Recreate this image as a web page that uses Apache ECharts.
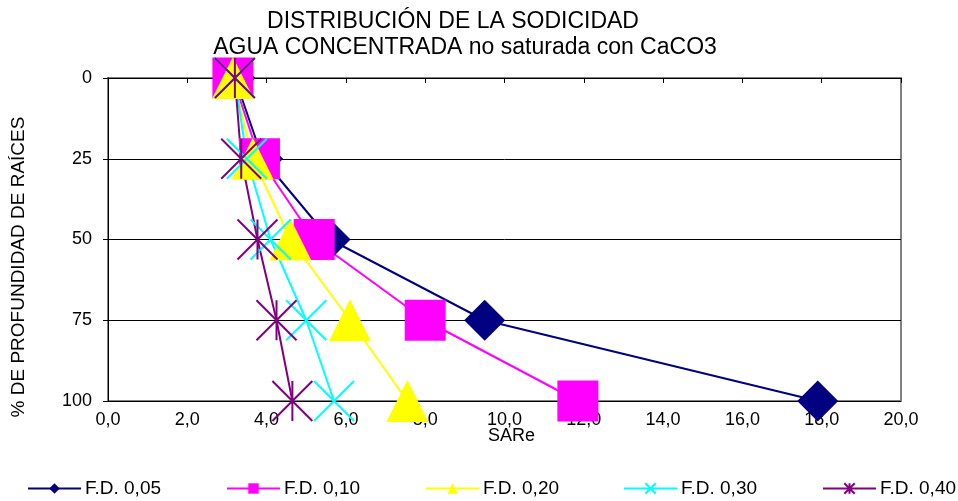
<!DOCTYPE html>
<html>
<head>
<meta charset="utf-8">
<script src="https://cdn.jsdelivr.net/npm/echarts@6/dist/echarts.min.js"></script>
<style>
  html, body { margin: 0; padding: 0; background: #fff; }
  #chart { width: 958px; height: 501px; }
</style>
</head>
<body>
<div id="chart"></div>
<script>
// Root depth (% of profile) and SARe values per leaching fraction
const depths = [0, 25, 50, 75, 100];
const xTicks = [0, 2, 4, 6, 8, 10, 12, 14, 16, 18, 20];
const seriesNames = ['F.D. 0,05', 'F.D. 0,10', 'F.D. 0,20', 'F.D. 0,30', 'F.D. 0,40'];
const sareFD005 = [3.2, 3.9, 5.6, 9.5, 17.9];
const sareFD010 = [3.15, 3.82, 5.2, 8.0, 11.85];
const sareFD020 = [3.15, 3.65, 4.6, 6.1, 7.55];
const sareFD030 = [3.2, 3.5, 4.1, 5.0, 5.7];
const sareFD040 = [3.2, 3.36, 3.77, 4.25, 4.65];

const FONT = '"Liberation Sans", Arial, sans-serif';
const colors = ['#000080', '#FF00FF', '#FFFF00', '#00FFFF', '#800080'];
const symbols = [
  'diamond',
  'rect',
  'triangle',
  'path://M0,0L10,10M10,0L0,10',
  'path://M0,0L10,10M10,0L0,10M5,0L5,10'
];
const values = [sareFD005, sareFD010, sareFD020, sareFD030, sareFD040];
const legendLeft = [27, 226, 425, 623, 822];

const pairs = v => v.map((x, i) => [x, depths[i]]);

const series = values.map((v, k) => {
  const stroked = k >= 3;
  return {
    name: seriesNames[k],
    type: 'line',
    data: pairs(v),
    symbol: symbols[k],
    symbolSize: stroked ? 40 : (k === 2 ? [42, 42] : 41),
    symbolKeepAspect: false,
    lineStyle: { color: colors[k], width: 2 },
    itemStyle: stroked
      ? { color: 'rgba(0,0,0,0)', borderColor: colors[k], borderWidth: 2 }
      : { color: colors[k], borderWidth: 0 },
    emphasis: { disabled: true },
    animation: false
  };
});

const legends = seriesNames.map((n, k) => ({
  data: [n],
  left: legendLeft[k],
  top: 479,
  padding: 0,
  itemWidth: 53,
  itemHeight: 13,
  itemGap: 4,
  selectedMode: false,
  textStyle: { fontFamily: FONT, fontSize: 19, color: '#000', padding: [0, 0, 0, -1] }
}));

const titleStyle = { fontFamily: FONT, fontSize: 23, fontWeight: 'normal', color: '#000' };

const chart = echarts.init(document.getElementById('chart'), null, { renderer: 'canvas' });
chart.setOption({
  backgroundColor: '#fff',
  animation: false,
  title: [
    { text: 'DISTRIBUCIÓN DE LA SODICIDAD', left: 453, top: 10, padding: 0, textAlign: 'center', textStyle: titleStyle },
    { text: 'AGUA CONCENTRADA no saturada con CaCO3', left: 465, top: 36, padding: 0, textAlign: 'center', textStyle: titleStyle }
  ],
  graphic: [{
    type: 'text',
    x: 19,
    y: 267,
    rotation: Math.PI / 2,
    style: {
      text: '% DE PROFUNDIDAD DE RAÍCES',
      font: '19px ' + FONT,
      fill: '#000',
      align: 'center',
      verticalAlign: 'middle'
    }
  }],
  legend: legends,
  grid: {
    left: 108, right: 57, top: 78, bottom: 100,
    show: true, borderColor: '#808080', borderWidth: 2, backgroundColor: '#fff'
  },
  xAxis: {
    type: 'value',
    min: xTicks[0],
    max: xTicks[xTicks.length - 1],
    interval: 2,
    name: 'SARe',
    nameLocation: 'middle',
    nameGap: 26,
    nameMoveOverlap: false,
    nameTextStyle: { fontFamily: FONT, fontSize: 18, color: '#000', padding: [0, 0, 0, 14] },
    axisLine: { show: true, lineStyle: { color: '#000', width: 1 } },
    axisTick: { show: true, inside: false, length: 5, lineStyle: { color: '#000' } },
    axisLabel: {
      fontFamily: FONT, fontSize: 18, color: '#000', margin: 10,
      formatter: v => v.toFixed(1).replace('.', ',')
    },
    splitLine: { show: false }
  },
  yAxis: {
    type: 'value',
    inverse: true,
    min: depths[0],
    max: depths[depths.length - 1],
    interval: 25,
    axisLine: { show: true, lineStyle: { color: '#000', width: 1 } },
    axisTick: { show: true, inside: false, length: 5, lineStyle: { color: '#000' } },
    axisLabel: { fontFamily: FONT, fontSize: 18, color: '#000', margin: 16 },
    splitLine: { show: true, lineStyle: { color: '#000', width: 1 } }
  },
  series: series
});
</script>
</body>
</html>
